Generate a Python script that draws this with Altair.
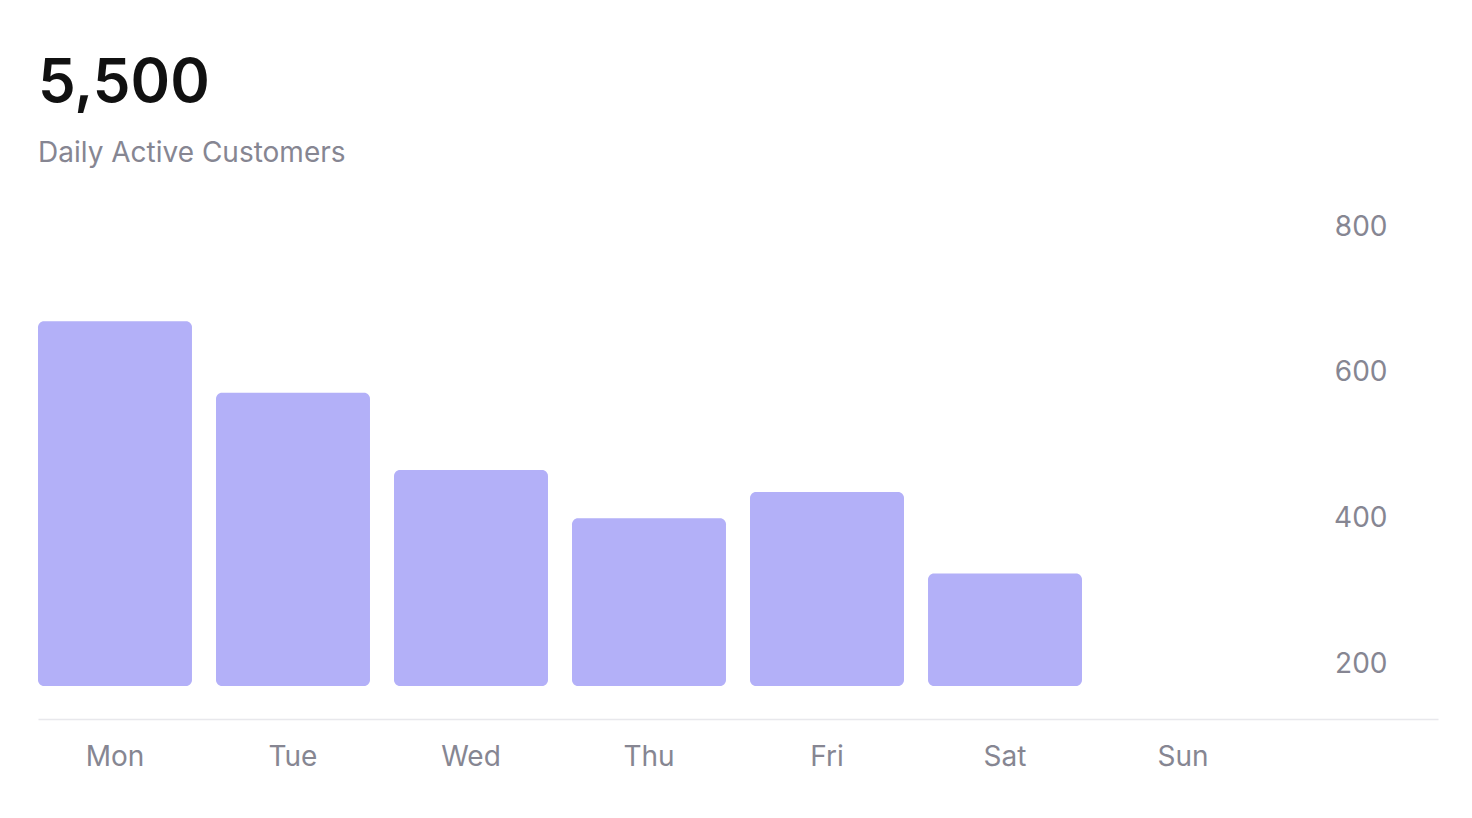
import altair as alt
import pandas as pd

days = ["Mon", "Tue", "Wed", "Thu", "Fri", "Sat", "Sun"]
customers = [671, 573, 467, 401, 437, 325, None]
y_ticks = [200, 400, 600, 800]
y_min = 171
y_max = 800

df = pd.DataFrame({"day": days, "customers": customers, "base": [y_min] * len(days)})
df = df.dropna()

FONT = "Inter"
GRAY = "#868692"

bars = alt.Chart(df).mark_bar(cornerRadius=6, color="#b3b0f8").encode(
    x=alt.X(
        "day:N",
        sort=days,
        scale=alt.Scale(domain=days, paddingInner=0.135, paddingOuter=0.5, align=0),
        axis=alt.Axis(
            title=None,
            labelAngle=0,
            ticks=False,
            domain=True,
            domainColor="#e8e8ec",
            domainWidth=1.5,
            offset=33,
            labelPadding=24,
            labelFontSize=28,
            labelColor=GRAY,
            labelFont=FONT,
            grid=False,
        ),
    ),
    y=alt.Y(
        "customers:Q",
        scale=alt.Scale(domain=[y_min, y_max], zero=False, nice=False),
        axis=alt.Axis(
            title=None,
            orient="right",
            values=y_ticks,
            ticks=False,
            domain=False,
            grid=False,
            labelAlign="right",
            offset=-51,
            labelPadding=0,
            labelFontSize=28,
            labelColor=GRAY,
            labelFont=FONT,
        ),
    ),
    y2="base:Q",
)

chart = bars.properties(
    width=1400,
    height=459,
    padding={"left": 30, "top": 46, "right": 26, "bottom": 20},
    title=alt.TitleParams(
        text="5,500",
        subtitle="Daily Active Customers",
        anchor="start",
        font=FONT,
        fontSize=60,
        fontWeight=600,
        color="#111111",
        subtitleFont=FONT,
        subtitleFontSize=28,
        subtitleColor=GRAY,
        subtitlePadding=25,
        offset=44,
        frame="group",
    ),
).configure(background="white").configure_view(strokeWidth=0, stroke="transparent")

chart.save("out.html", embed_options={"renderer": "svg", "actions": False})
